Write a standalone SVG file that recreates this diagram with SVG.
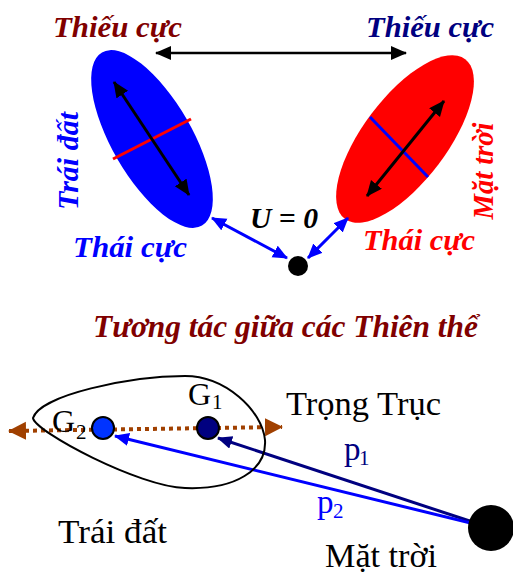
<svg xmlns="http://www.w3.org/2000/svg" width="513" height="575" viewBox="0 0 513 575">
<style>
.bi{font-family:"Liberation Serif","Times New Roman",serif;font-weight:bold;font-style:italic;font-size:29px}
.rm{font-family:"Liberation Serif","Times New Roman",serif;font-size:33px}
.sub{font-family:"Liberation Serif","Times New Roman",serif;font-size:21px}
</style>
<defs>
<marker id="hk" markerUnits="userSpaceOnUse" markerWidth="18" markerHeight="16" refX="15" refY="7" orient="auto-start-reverse"><path d="M0,0 L16,7 L0,14 Z" fill="#000"/></marker>
<marker id="hb" markerUnits="userSpaceOnUse" markerWidth="16" markerHeight="14" refX="14" refY="6.5" orient="auto-start-reverse"><path d="M0,0 L15,6.5 L0,13 Z" fill="#0000ff"/></marker>
<marker id="hn" markerUnits="userSpaceOnUse" markerWidth="16" markerHeight="14" refX="14" refY="6.5" orient="auto"><path d="M0,0 L15,6.5 L0,13 Z" fill="#000080"/></marker>
<marker id="hbr" markerUnits="userSpaceOnUse" markerWidth="20" markerHeight="20" refX="17" refY="9" orient="auto-start-reverse"><path d="M0,0 L18,9 L0,18 Z" fill="#a04000"/></marker>
</defs>

<g id="earth-top">
<ellipse cx="152" cy="139" rx="100" ry="40" transform="rotate(60 152 139)" fill="#0000ff"/>
<line x1="113" y1="159" x2="191" y2="119" stroke="#ff0000" stroke-width="3"/>
<line x1="114" y1="82" x2="189" y2="195" stroke="#000" stroke-width="3" marker-start="url(#hk)" marker-end="url(#hk)"/>
</g>
<g id="sun-top">
<ellipse cx="405" cy="139" rx="100" ry="42" transform="rotate(-53 405 139)" fill="#ff0000"/>
<line x1="370" y1="117" x2="428" y2="177" stroke="#0000ff" stroke-width="3"/>
<line x1="444" y1="101" x2="367" y2="196" stroke="#000" stroke-width="3" marker-start="url(#hk)" marker-end="url(#hk)"/>
</g>
<g id="center-dot"><circle cx="298" cy="266" r="10" fill="#000"/></g>

<g id="connectors">
<line x1="156" y1="53" x2="406" y2="53" stroke="#000" stroke-width="2.5" marker-start="url(#hk)" marker-end="url(#hk)"/>
<line x1="212" y1="218" x2="287" y2="258" stroke="#0000ff" stroke-width="3" marker-start="url(#hb)" marker-end="url(#hb)"/>
<line x1="308" y1="258" x2="348" y2="218" stroke="#0000ff" stroke-width="3" marker-start="url(#hb)" marker-end="url(#hb)"/>
<line x1="9" y1="431" x2="282" y2="427" stroke="#a04000" stroke-width="4" stroke-dasharray="4 4" marker-start="url(#hbr)" marker-end="url(#hbr)"/>
<line x1="491" y1="528" x2="218" y2="438" stroke="#000080" stroke-width="3" marker-end="url(#hn)"/>
<line x1="491" y1="528" x2="115" y2="436" stroke="#0000ff" stroke-width="3" marker-end="url(#hb)"/>
</g>

<g id="labels-top">
<text class="bi" x="53" y="37" fill="#800000" textLength="129" lengthAdjust="spacingAndGlyphs">Thiếu cực</text>
<text class="bi" x="366" y="37" fill="#000080" textLength="128" lengthAdjust="spacingAndGlyphs">Thiếu cực</text>
<text class="bi" x="73" y="257" fill="#0000ff" textLength="114" lengthAdjust="spacingAndGlyphs">Thái cực</text>
<text class="bi" x="363" y="250" fill="#ff0000" textLength="112" lengthAdjust="spacingAndGlyphs">Thái cực</text>
<text class="bi" x="250" y="228" fill="#000" textLength="68" lengthAdjust="spacingAndGlyphs">U = 0</text>
<text class="bi" transform="translate(78 161) rotate(-90)" x="0" y="0" text-anchor="middle" fill="#0000ff" textLength="98" lengthAdjust="spacingAndGlyphs">Trái đất</text>
<text class="bi" transform="translate(493 171) rotate(-90)" x="0" y="0" text-anchor="middle" fill="#ff0000" textLength="97" lengthAdjust="spacingAndGlyphs">Mặt trời</text>
</g>

<g id="title">
<text class="bi" style="font-size:31px" x="93" y="337" fill="#800000" textLength="385" lengthAdjust="spacingAndGlyphs">Tương tác giữa các Thiên thể</text>
</g>

<g id="earth-body">
<path d="M33,418 C40,395 130,376 185,376 C225,376 262,410 265,440 C267,470 235,490 185,488 C140,487 35,432 33,418 Z" fill="none" stroke="#000" stroke-width="2"/>
</g>
<g id="G2">
<circle cx="103" cy="428" r="11" fill="#0033ff" stroke="#000" stroke-width="2"/>
<text class="rm" style="font-size:32px" x="52" y="432">G</text>
<text class="sub" x="76" y="439">2</text>
</g>
<g id="G1">
<circle cx="208" cy="428" r="11" fill="#000080" stroke="#000" stroke-width="2"/>
<text class="rm" style="font-size:32px" x="188" y="405">G</text>
<text class="sub" x="212" y="409">1</text>
</g>
<g id="sun-body"><circle cx="491" cy="528" r="23" fill="#000"/></g>

<g id="labels-bottom">
<text class="rm" x="286" y="415" textLength="155" lengthAdjust="spacingAndGlyphs">Trọng Trục</text>
<text class="rm" x="58" y="543" textLength="109" lengthAdjust="spacingAndGlyphs">Trái đất</text>
<text class="rm" x="325" y="567" textLength="112" lengthAdjust="spacingAndGlyphs">Mặt trời</text>
<text class="rm" x="344" y="460" fill="#000080">p</text>
<text class="sub" x="359" y="465" fill="#000080">1</text>
<text class="rm" x="317" y="513" fill="#0000ff">p</text>
<text class="sub" x="333" y="518" fill="#0000ff">2</text>
</g>
</svg>
